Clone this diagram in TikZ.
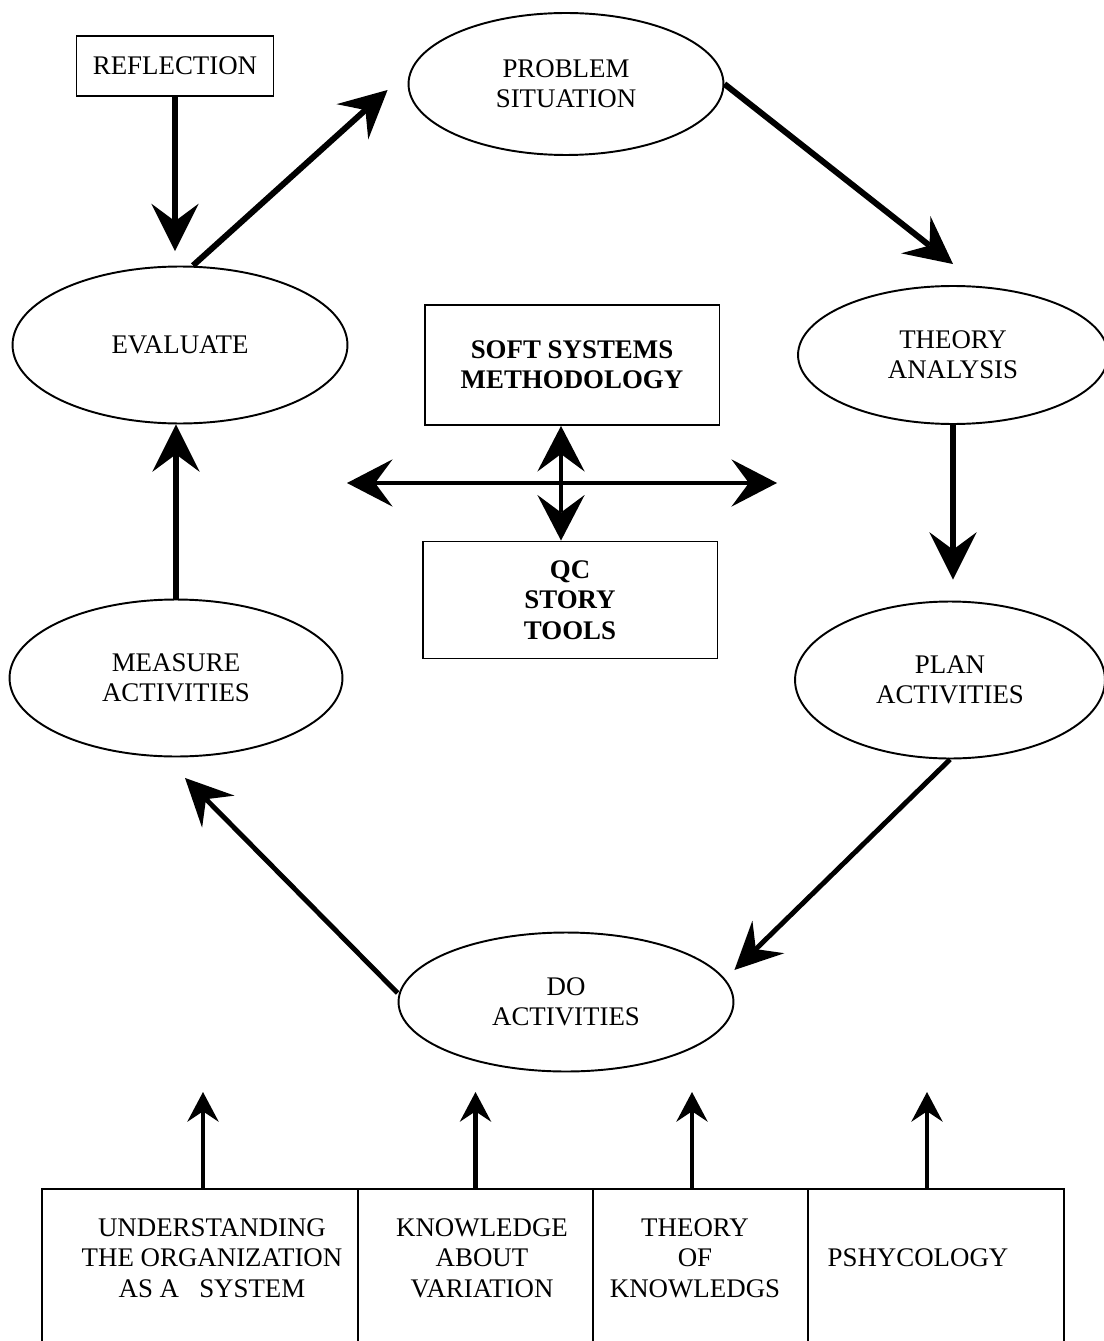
\documentclass[tikz,border=0pt]{standalone}
\usepackage{fontspec}
\setmainfont{Liberation Serif}
\usetikzlibrary{arrows.meta,shapes.geometric}

\begin{document}
\begin{tikzpicture}[x=0.02cm,y=-0.02cm,
  font=\fontsize{15.3}{17.3}\selectfont,
  oval/.style={draw,ellipse,line width=1.1pt,inner sep=0pt,align=center},
  box/.style={draw,rectangle,line width=1.1pt,inner sep=0pt,align=center},
  bigarr/.style={line width=3.4pt,-{Stealth[length=27pt,width=27pt,inset=10pt,line width=0pt]}},
  midarr/.style={line width=2.8pt,-{Stealth[length=27pt,width=26pt,inset=10pt,line width=0pt]}},
  dblarr/.style={line width=2.8pt,{Stealth[length=26pt,width=27pt,inset=10pt,line width=0pt]}-{Stealth[length=26pt,width=27pt,inset=10pt,line width=0pt]}},
  smallarr/.style={line width=2.6pt,-{Stealth[length=17pt,width=18pt,inset=6pt,line width=0pt]}}]
\useasboundingbox (0,0) rectangle (1104,1341);
\clip (0,0) rectangle (1104,1341);

% cycle
\node[box,minimum width=3.94cm,minimum height=1.2cm] (refl) at (175,66) {REFLECTION};
\node[oval,minimum width=6.3cm,minimum height=2.84cm] (prob) at (566,84) {PROBLEM\\SITUATION};
\node[oval,minimum width=6.7cm,minimum height=3.14cm] (eval) at (180,345) {EVALUATE};
\node[oval,minimum width=6.2cm,minimum height=2.76cm] (theory) at (953,355) {THEORY\\ANALYSIS};
\node[oval,minimum width=6.66cm,minimum height=3.14cm] (measure) at (176,678) {MEASURE\\ACTIVITIES};
\node[oval,minimum width=6.2cm,minimum height=3.14cm] (plan) at (950,680) {PLAN\\ACTIVITIES};
\node[oval,minimum width=6.7cm,minimum height=2.78cm] (do) at (566,1002) {DO\\ACTIVITIES};

% centre
\node[box,font=\fontsize{15.3}{17.3}\selectfont\bfseries,minimum width=5.9cm,minimum height=2.4cm] (soft) at (572,365) {SOFT SYSTEMS\\METHODOLOGY};
\node[box,font=\fontsize{15.3}{17.3}\selectfont\bfseries,minimum width=5.9cm,minimum height=2.34cm] (qc) at (570,600) {QC\\STORY\\TOOLS};

\draw[bigarr,shorten >=0.29cm] (refl.south) -- (refl.south |- eval.north);
\draw[bigarr] ([xshift=0.26cm]eval.north) -- ([xshift=-0.4cm,yshift=-0.12cm]prob.west);
\draw[bigarr] (prob.east) -- ([yshift=0.42cm]theory.north);
\draw[bigarr,shorten >=0.42cm] (theory.south) -- (theory.south |- plan.north);
\draw[midarr] (plan.south) -- ([yshift=0.64cm]do.east);
\draw[midarr] ([yshift=0.18cm]do.west) -- ([xshift=0.18cm,yshift=-0.41cm]measure.south);
\draw[bigarr] (measure.north) -- (measure.north |- eval.south);

\coordinate (hl) at (347,483);
\coordinate (hr) at (777,483);
\coordinate (vt) at ([xshift=-0.22cm]soft.south);
\draw[dblarr] (hl) -- (hr);
\draw[dblarr] (vt) -- (vt |- qc.north);

% bottom boxes
\node[box,anchor=north,minimum width=6.32cm,minimum height=3.44cm] (b1) at (200,1188) {};
\node[box,anchor=north,minimum width=4.7cm,minimum height=3.44cm] (b2) at (475.5,1188) {};
\node[box,anchor=north,minimum width=4.3cm,minimum height=3.44cm] (b3) at (700.5,1188) {};
\node[box,anchor=north,minimum width=5.12cm,minimum height=3.44cm] (b4) at (936,1188) {};
\node[align=center] (t1) at (212,1258) {UNDERSTANDING\\THE ORGANIZATION\\AS A~~~SYSTEM};
\node[align=center] (t2) at (482,1258) {KNOWLEDGE\\ABOUT\\VARIATION};
\node[align=center] (t3) at (695,1258) {THEORY\\OF\\KNOWLEDGS};
\node (t4) at (918,1258) {PSHYCOLOGY};

\draw[smallarr] ([xshift=0.06cm]b1.north) -- ++(0,-96);
\draw[smallarr] (b2.north) -- ++(0,-96);
\draw[smallarr] ([xshift=-0.17cm]b3.north) -- ++(0,-96);
\draw[smallarr] ([xshift=-0.18cm]b4.north) -- ++(0,-96);
\end{tikzpicture}
\end{document}
